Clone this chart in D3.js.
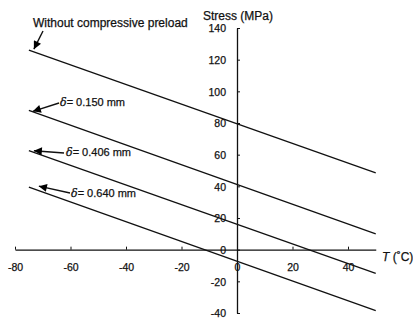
<!DOCTYPE html>
<html>
<head>
<meta charset="utf-8">
<script src="https://cdn.jsdelivr.net/npm/d3@7"></script>
<style>
  html, body { margin: 0; padding: 0; background: #fff; }
  svg { display: block; font-family: Arial, "Liberation Sans", sans-serif; }
  text { stroke: #111; stroke-width: 0.25px; }
</style>
</head>
<body>
<svg id="chart" width="413" height="324"></svg>
<script>
// ---- data ----
const temps = [-75, 50];                       // T (°C) at the ends of each line
const seriesNames = ["Without compressive preload", "δ= 0.150 mm", "δ= 0.406 mm", "δ= 0.640 mm"];
const stressNoPreload = [126, 48.5];
const stress150 = [88, 10];
const stress406 = [62.5, -15];
const stress640 = [39.5, -38.5];
const xTicks = [-80, -60, -40, -20, 0, 20, 40];
const yTicks = [-40, -20, 0, 20, 40, 60, 80, 100, 120, 140];

const seriesValues = [stressNoPreload, stress150, stress406, stress640];

const svg = d3.select("#chart");
const x = d3.scaleLinear().domain([-80, 50]).range([15, 375.75]);
const y = d3.scaleLinear().domain([-40, 140]).range([313, 28]);

// arrow marker
svg.append("defs").append("marker")
  .attr("id", "ah").attr("viewBox", "0 0 10 10")
  .attr("refX", 10).attr("refY", 5)
  .attr("markerWidth", 12).attr("markerHeight", 8)
  .attr("markerUnits", "userSpaceOnUse")
  .attr("orient", "auto")
  .append("path").attr("d", "M0,0 L10,5 L0,10 Z").attr("fill", "#000");

const fmt = d => String(d);

// axes
const yAxis = d3.axisLeft(y).tickValues(yTicks).tickSize(-3).tickSizeOuter(0).tickPadding(11).tickFormat(fmt);
const gy = svg.append("g").attr("transform", `translate(${x(0)},0)`).call(yAxis);
const xAxis = d3.axisBottom(x).tickValues(xTicks).tickSize(-3).tickSizeOuter(0).tickPadding(14).tickFormat(fmt);
const gx = svg.append("g").attr("transform", `translate(0,${y(0)})`).call(xAxis);

[gy, gx].forEach(g => {
  g.selectAll("path.domain").attr("stroke", "#111").attr("stroke-width", 1.3);
  g.selectAll(".tick line").attr("stroke", "#111").attr("stroke-width", 1);
  g.selectAll(".tick text").attr("fill", "#111").attr("font-size", "10.5px")
    .attr("font-family", "Arial, 'Liberation Sans', sans-serif");
});
gy.selectAll(".tick text").attr("dy", "0.36em");

// axis titles
svg.append("text").attr("x", 203).attr("y", 20).attr("font-size", "12px").attr("fill", "#111")
  .text("Stress (MPa)");
const tl = svg.append("text").attr("x", 382).attr("y", 261).attr("font-size", "12px").attr("fill", "#111");
tl.append("tspan").attr("font-style", "italic").text("T");
tl.append("tspan").text(" (˚C)");

// lines
const line = d3.line().x(d => x(d[0])).y(d => y(d[1]));
seriesValues.forEach(vals => {
  svg.append("path")
    .datum(temps.map((t, i) => [t, vals[i]]))
    .attr("d", line).attr("fill", "none").attr("stroke", "#111").attr("stroke-width", 1.3);
});

// annotations
const x0 = x(temps[0]);
svg.append("text").attr("x", 33).attr("y", 27).attr("font-size", "12px").attr("fill", "#111")
  .text(seriesNames[0]);
svg.append("line").attr("x1", 43).attr("y1", 31)
  .attr("x2", x0 + 5).attr("y2", y(stressNoPreload[0]) - 1)
  .attr("stroke", "#111").attr("stroke-width", 1.4).attr("marker-end", "url(#ah)");

const labelPos = [
  {tx: 60, ty: 106, sx: 59, sy: 103, dx: 4, dy: 1},
  {tx: 66, ty: 156, sx: 64, sy: 153, dx: 5, dy: 0},
  {tx: 71, ty: 197, sx: 70, sy: 193, dx: 10, dy: -1}
];
[stress150, stress406, stress640].forEach((vals, i) => {
  const p = labelPos[i];
  const t = svg.append("text").attr("x", p.tx).attr("y", p.ty).attr("font-size", "11px").attr("fill", "#111");
  t.append("tspan").attr("font-style", "italic").attr("font-family", "'DejaVu Serif', serif").text("δ");
  t.append("tspan").text(seriesNames[i + 1].slice(1));
  svg.append("line").attr("x1", p.sx).attr("y1", p.sy)
    .attr("x2", x0 + p.dx).attr("y2", y(vals[0]) + p.dy)
    .attr("stroke", "#111").attr("stroke-width", 1.4).attr("marker-end", "url(#ah)");
});
</script>
</body>
</html>
